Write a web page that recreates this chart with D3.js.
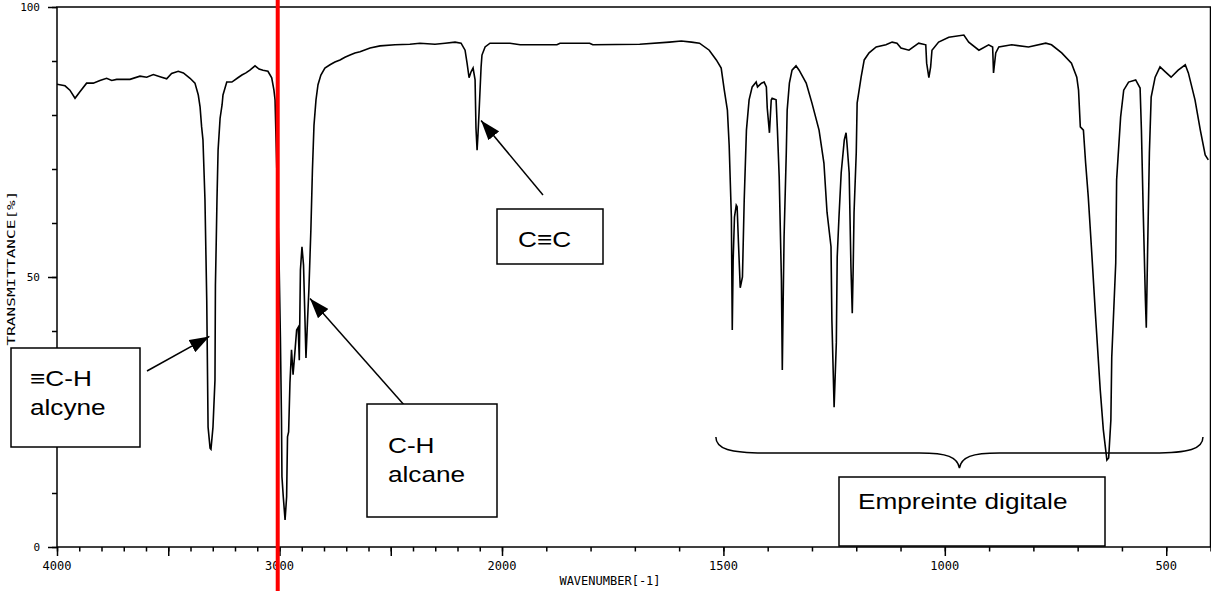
<!DOCTYPE html>
<html>
<head>
<meta charset="utf-8">
<script src="https://cdn.jsdelivr.net/npm/d3@7"></script>
<style>
  html, body { margin: 0; padding: 0; background: #fff; }
  svg { display: block; }
</style>
</head>
<body>
<svg id="chart" width="1211" height="591"></svg>
<script>
// IR spectrum: wavenumber (cm-1) and transmittance (%)
const wavenumbers = [
  4000, 3964, 3942, 3919, 3897, 3867, 3837, 3807, 3777, 3754, 3732, 3672, 3627, 3597, 3567, 3537,
  3507, 3485, 3455, 3432, 3402, 3380, 3365, 3357, 3350, 3344, 3335, 3327, 3321, 3312, 3308, 3299,
  3290, 3288, 3285, 3281, 3276, 3267, 3258, 3254, 3237, 3214, 3187, 3169, 3151, 3133, 3110, 3092,
  3074, 3052, 3035, 3025, 3020, 3011, 3002, 2996, 2991, 2989, 2983, 2975, 2968, 2964, 2959, 2953,
  2946, 2939, 2930, 2923, 2916, 2911, 2906, 2899, 2892, 2881, 2874, 2868, 2859, 2852, 2845, 2836,
  2827, 2814, 2796, 2773, 2751, 2728, 2706, 2683, 2661, 2638, 2593, 2548, 2481, 2414, 2369, 2301,
  2256, 2211, 2184, 2166, 2157, 2148, 2139, 2130, 2121, 2117, 2112, 2108, 2103, 2094, 2090, 2076,
  2054, 2000, 1982, 1959, 1876, 1869, 1802, 1795, 1689, 1622, 1595, 1572, 1554, 1532, 1516, 1505,
  1498, 1491, 1487, 1482, 1480, 1478, 1475, 1471, 1469, 1466, 1462, 1457, 1453, 1448, 1442, 1435,
  1426, 1423, 1414, 1408, 1403, 1401, 1396, 1392, 1390, 1381, 1378, 1374, 1369, 1367, 1365, 1363,
  1358, 1356, 1351, 1345, 1336, 1329, 1313, 1300, 1284, 1273, 1266, 1257, 1255, 1250, 1245, 1243,
  1239, 1234, 1227, 1223, 1221, 1216, 1212, 1209, 1207, 1205, 1200, 1198, 1189, 1182, 1171, 1155,
  1133, 1119, 1108, 1099, 1081, 1059, 1043, 1041, 1036, 1032, 1029, 1014, 991, 957, 946, 923,
  901, 892, 890, 885, 878, 849, 811, 772, 759, 736, 714, 702, 698, 694, 687, 682,
  676, 669, 660, 649, 642, 634, 630, 625, 623, 614, 612, 603, 596, 585, 569, 559,
  556, 552, 547, 545, 542, 538, 534, 525, 514, 502, 489, 473, 457, 450, 435, 423,
  412, 405
];
const transmittance = [
  85.7, 85.4, 84.6, 83.1, 84.3, 85.9, 85.9, 86.4, 86.8, 86.4, 86.6, 86.6, 87.2, 87.0, 87.5, 87.1,
  86.7, 87.7, 88.1, 87.8, 86.8, 85.9, 83.7, 81.5, 77.8, 75.4, 64.3, 45.7, 22.2, 18.3, 18.1, 22.2,
  30.9, 48.5, 55.0, 64.3, 73.5, 79.4, 81.9, 83.7, 86.1, 86.1, 86.9, 87.4, 87.8, 88.3, 89.1, 88.5,
  88.3, 88.1, 86.9, 84.6, 82.8, 68.0, 53.1, 38.9, 23.5, 13.0, 9.3, 5.0, 9.3, 20.4, 21.3, 30.4,
  36.5, 31.9, 36.5, 40.2, 40.7, 34.6, 51.3, 55.6, 52.2, 35.0, 42.0, 47.6, 58.7, 69.8, 78.1, 82.8,
  85.6, 87.4, 88.7, 89.3, 89.8, 90.2, 90.7, 91.1, 91.5, 91.7, 92.4, 92.8, 93.0, 93.1, 93.3, 93.1,
  93.3, 93.5, 93.3, 92.0, 89.6, 86.9, 88.0, 88.7, 86.5, 77.6, 73.5, 76.3, 80.6, 88.9, 91.1, 92.6,
  93.3, 93.3, 93.3, 93.0, 93.0, 93.3, 93.3, 93.0, 93.1, 93.5, 93.7, 93.5, 93.3, 92.0, 90.2, 88.7,
  84.6, 80.9, 74.4, 61.1, 40.2, 53.1, 61.1, 63.3, 63.0, 56.3, 48.0, 50.0, 64.3, 77.2, 82.8, 85.2,
  86.1, 85.2, 85.9, 86.1, 85.2, 81.3, 76.7, 82.8, 83.1, 82.8, 77.2, 68.5, 49.4, 32.8, 45.7, 57.4,
  73.0, 80.9, 85.9, 88.3, 89.1, 88.3, 85.9, 82.2, 77.2, 71.1, 62.0, 55.6, 42.0, 25.9, 37.8, 53.7,
  61.1, 69.3, 75.4, 76.7, 74.8, 69.3, 51.9, 43.3, 51.3, 61.9, 73.0, 82.2, 87.0, 90.2, 91.5, 92.6,
  93.0, 93.5, 93.3, 92.4, 92.0, 93.3, 93.0, 89.6, 86.9, 88.9, 92.0, 93.5, 94.4, 94.8, 93.5, 92.0,
  93.0, 92.6, 87.8, 91.5, 92.6, 93.0, 92.6, 93.3, 93.0, 91.5, 89.6, 87.0, 84.6, 77.8, 77.2, 71.1,
  64.8, 55.6, 43.3, 29.1, 21.7, 16.1, 16.5, 23.5, 35.2, 52.6, 68.0, 79.6, 84.6, 86.1, 86.5, 85.0,
  77.2, 62.4, 45.7, 40.6, 55.0, 73.0, 83.3, 87.0, 88.9, 88.0, 87.0, 88.3, 89.3, 87.8, 82.8, 77.2,
  72.6, 71.7
];

// Axis ticks
const xMajorTicks = [4000, 3500, 3000, 2500, 2000, 1500, 1000, 500];
const xMinorTicks = d3.range(4000, 399, -100);
const xTickLabels = [4000, 3000, 2000, 1500, 1000, 500];
const yMajorTicks = [0, 50, 100];
const yMinorTicks = d3.range(0, 101, 10);
const xTitle = "WAVENUMBER[-1]";
const yTitle = "TRANSMITTANCE[%]";

// Band annotations: box text lines, and the point the arrow points to
const annotations = [
  { lines: ["\u2261C-H", "alcyne"], target: [3315, 39] },
  { lines: ["C-H", "alcane"], target: [2863, 46] },
  { lines: ["C\u2261C"], target: [2094, 79] },
];
const fingerprintRange = [1517, 417];
const fingerprintLabel = "Empreinte digitale";
const markedWavenumber = 3008;

const svg = d3.select("#chart");
const W = 1211, H = 591;

// Spectrometer scale: 4000-2000 is compressed by half compared to 2000-400
const x = d3.scaleLinear().domain([4000, 2000, 400]).range([57, 502, 1210.5]);
const y = d3.scaleLinear().domain([0, 100]).range([547, 7]);

svg.append("rect").attr("width", W).attr("height", H).attr("fill", "#fff");

const defs = svg.append("defs");
defs.append("clipPath").attr("id", "plot-clip")
  .append("rect").attr("x", x(4000)).attr("y", y(100))
  .attr("width", x(400) - x(4000)).attr("height", y(0) - y(100));

const axisFont = "'DejaVu Sans Mono', monospace";

// Bottom axis: minor and major ticks in separate groups
function xTicks(values, size) {
  const g = svg.append("g").attr("transform", `translate(0,${y(0)})`)
    .call(d3.axisBottom(x).tickValues(values).tickSize(size).tickFormat(""));
  g.select(".domain").remove();
  g.selectAll("line").attr("stroke", "#000").attr("stroke-width", 1.5);
}
xTicks(xMinorTicks, 4.5);
xTicks(xMajorTicks, 9);

svg.append("g").selectAll("text").data(xTickLabels).join("text")
  .attr("x", d => x(d)).attr("y", 570)
  .attr("text-anchor", "middle")
  .attr("font-family", axisFont).attr("font-size", 12)
  .text(d => d);

svg.append("text").attr("x", 610).attr("y", 585)
  .attr("text-anchor", "middle")
  .attr("font-family", axisFont).attr("font-size", 12)
  .text(xTitle);

// Left axis
function yTicks(values, size) {
  const g = svg.append("g").attr("transform", `translate(${x(4000)},0)`)
    .call(d3.axisLeft(y).tickValues(values).tickSize(size).tickFormat(""));
  g.select(".domain").remove();
  g.selectAll("line").attr("stroke", "#000").attr("stroke-width", 1.5);
}
yTicks(yMinorTicks, 5);
yTicks(yMajorTicks, 9);

svg.append("g").selectAll("text").data(yMajorTicks).join("text")
  .attr("x", 40).attr("y", d => y(d))
  .attr("dy", "0.35em")
  .attr("text-anchor", "end")
  .attr("font-family", axisFont).attr("font-size", 11)
  .text(d => d);

svg.append("text")
  .attr("transform", `translate(15,268) rotate(-90)`)
  .attr("text-anchor", "middle")
  .attr("font-family", axisFont).attr("font-size", 11)
  .attr("textLength", 155).attr("lengthAdjust", "spacingAndGlyphs")
  .text(yTitle);

// Plot frame
svg.append("rect")
  .attr("x", x(4000)).attr("y", y(100))
  .attr("width", x(400) - x(4000)).attr("height", y(0) - y(100))
  .attr("fill", "none").attr("stroke", "#000").attr("stroke-width", 1.5);

// Spectrum trace
const spectrum = wavenumbers.map((w, i) => [w, transmittance[i]]);
svg.append("path")
  .datum(spectrum)
  .attr("clip-path", "url(#plot-clip)")
  .attr("fill", "none").attr("stroke", "#000").attr("stroke-width", 1.6)
  .attr("stroke-linejoin", "miter")
  .attr("d", d3.line().x(d => x(d[0])).y(d => y(d[1])));

// Arrow marker
defs.append("marker")
  .attr("id", "arrow").attr("markerUnits", "userSpaceOnUse")
  .attr("viewBox", "0 0 20 14").attr("refX", 20).attr("refY", 7)
  .attr("markerWidth", 20).attr("markerHeight", 14).attr("orient", "auto")
  .append("path").attr("d", "M0,0 L20,7 L0,14 Z").attr("fill", "#000");

const textFont = "'Liberation Sans', Arial, sans-serif";
const stretch = 1.19;

function box(x0, y0, x1, y1) {
  svg.append("rect").attr("x", x0).attr("y", y0)
    .attr("width", x1 - x0).attr("height", y1 - y0)
    .attr("fill", "#fff").attr("stroke", "#000").attr("stroke-width", 1.5);
}
function label(str, tx, ty) {
  svg.append("text")
    .attr("transform", `translate(${tx},${ty}) scale(${stretch},1)`)
    .attr("font-family", textFont).attr("font-size", 22).attr("fill", "#000")
    .text(str);
}
function arrow(sx, sy, target) {
  svg.append("line")
    .attr("x1", sx).attr("y1", sy)
    .attr("x2", x(target[0])).attr("y2", y(target[1]))
    .attr("stroke", "#000").attr("stroke-width", 1.5)
    .attr("marker-end", "url(#arrow)");
}

// Annotation boxes with arrows
const boxes = [
  { rect: [11, 348, 140, 447], text: [30, 386], lead: 29, start: [147, 371] },
  { rect: [367, 404, 497, 517], text: [388, 453], lead: 29, start: [405, 406] },
  { rect: [497, 209, 603, 264], text: [518, 247], lead: 29, start: [543, 195] },
];
annotations.forEach((a, i) => {
  const b = boxes[i];
  arrow(b.start[0], b.start[1], a.target);
  box(...b.rect);
  a.lines.forEach((ln, j) => label(ln, b.text[0], b.text[1] + j * b.lead));
});

// Curly brace over the fingerprint region
const bx0 = x(fingerprintRange[0]), bx1 = x(fingerprintRange[1]);
const bm = (bx0 + bx1) / 2, by = 437, bh = 453, bt = 468;
svg.append("path")
  .attr("d", `M${bx0},${by} C${bx0},${bh - 4} ${bx0 + 14},${bh} ${bx0 + 50},${bh}
              L${bm - 40},${bh} C${bm - 12},${bh} ${bm - 2},${bh + 4} ${bm},${bt}
              C${bm + 2},${bh + 4} ${bm + 12},${bh} ${bm + 40},${bh}
              L${bx1 - 50},${bh} C${bx1 - 14},${bh} ${bx1},${bh - 4} ${bx1},${by}`)
  .attr("fill", "none").attr("stroke", "#000").attr("stroke-width", 1.5);

box(839, 477, 1105, 546);
label(fingerprintLabel, 858, 509);

// Vertical marker near 3000 cm-1
svg.append("line")
  .attr("x1", x(markedWavenumber)).attr("x2", x(markedWavenumber))
  .attr("y1", 0).attr("y2", H)
  .attr("stroke", "#ff0000").attr("stroke-width", 4);
</script>
</body>
</html>
